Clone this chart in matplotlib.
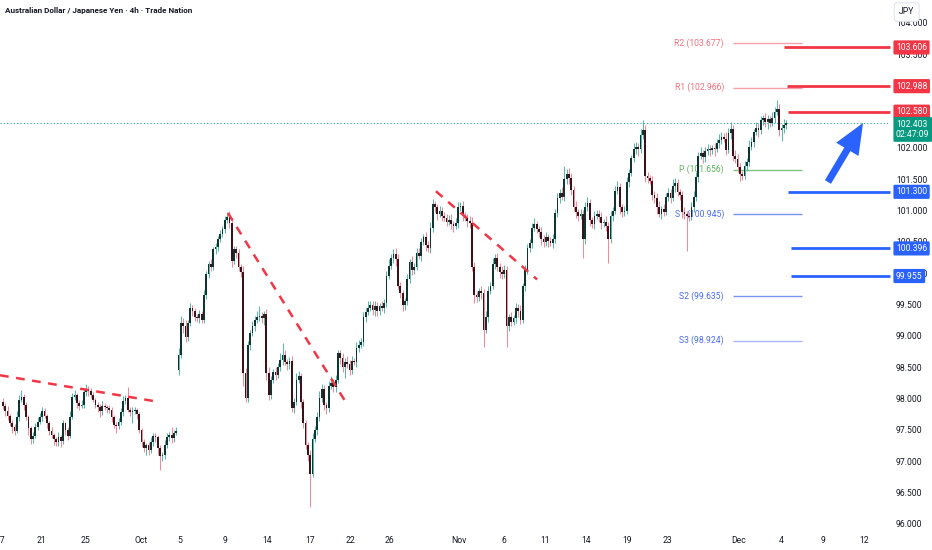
import numpy as np
import matplotlib
matplotlib.use("Agg")
import matplotlib.pyplot as plt
import matplotlib.transforms as mtrans

FONT = ["Liberation Sans Narrow", "Roboto", "DejaVu Sans"]
plt.rcParams["font.family"] = FONT

TITLE = "Australian Dollar / Japanese Yen \u00b7 4h \u00b7 Trade Nation"

# 4h closes, one row per trading day (Sep 17 .. Dec 4)
closes = [
    97.88, 97.80, 97.72, 97.60, 97.55, 97.48,
    97.70, 97.98, 98.02, 97.90, 97.70, 97.52,
    97.35, 97.40, 97.55, 97.62, 97.70, 97.80,
    97.72, 97.60, 97.48, 97.42, 97.35, 97.30,
    97.38, 97.32, 97.60, 97.50, 97.40, 97.70,
    98.02, 98.05, 97.92, 97.88, 97.90, 98.10,
    98.15, 98.12, 98.05, 97.98, 97.90, 97.86,
    97.80, 97.88, 97.86, 97.84, 97.82, 97.70,
    97.58, 97.56, 97.62, 97.78, 97.96, 98.00,
    97.82, 97.78, 97.80, 97.82, 97.75, 97.50,
    97.30, 97.20, 97.25, 97.18, 97.30, 97.40,
    97.38, 97.20, 97.08, 97.10, 97.25, 97.38,
    97.42, 97.36, 97.45, 97.48, 98.70, 99.20,
    99.15, 98.98, 99.20, 99.45, 99.40, 99.30,
    99.28, 99.35, 99.25, 99.65, 99.98, 100.15,
    100.10, 100.38, 100.42, 100.55, 100.62, 100.70,
    100.85, 100.90, 100.80, 100.20, 100.38, 100.32,
    100.10, 100.02, 98.40, 98.00, 98.85, 99.05,
    99.15, 99.25, 99.30, 99.32, 99.28, 99.35,
    98.40, 98.05, 98.30, 98.42, 98.38, 98.50,
    98.62, 98.70, 98.58, 98.55, 98.60, 97.85,
    97.95, 98.30, 98.35, 97.95, 97.60, 97.25,
    97.10, 96.80, 97.35, 97.50, 97.70, 98.00,
    98.15, 97.90, 97.85, 98.20, 98.25, 98.18,
    98.30, 98.72, 98.65, 98.50, 98.58, 98.55,
    98.45, 98.60, 98.58, 98.80, 98.85, 98.90,
    99.30, 99.38, 99.45, 99.50, 99.42, 99.48,
    99.40, 99.48, 99.45, 99.52, 99.95, 100.12,
    100.25, 100.30, 100.22, 99.80, 99.68, 99.50,
    99.55, 99.90, 100.18, 100.05, 100.10, 100.32,
    100.28, 100.50, 100.58, 100.45, 100.40, 100.72,
    101.10, 101.05, 100.95, 101.00, 100.92, 100.88,
    100.82, 100.85, 100.78, 100.76, 100.80, 101.05,
    101.08, 100.92, 100.88, 100.84, 100.80, 100.10,
    99.65, 99.62, 99.72, 99.68, 99.10, 99.30,
    99.72, 99.80, 100.15, 100.25, 100.10, 100.02,
    99.98, 100.05, 99.15, 99.30, 99.22, 99.28,
    99.45, 99.40, 99.25, 99.80, 100.05, 100.40,
    100.48, 100.72, 100.78, 100.70, 100.66, 100.55,
    100.50, 100.58, 100.52, 100.48, 100.55, 100.96,
    101.20, 101.28, 101.22, 101.50, 101.58, 101.52,
    101.33, 101.05, 100.98, 100.92, 100.95, 100.55,
    101.05, 101.12, 100.85, 100.78, 100.92, 100.95,
    100.90, 100.80, 100.82, 100.76, 100.55, 100.92,
    101.00, 101.32, 101.38, 101.05, 100.98, 101.00,
    101.45, 101.60, 101.84, 101.98, 102.02, 101.98,
    102.20, 102.28, 101.55, 101.52, 101.48, 101.25,
    101.20, 101.05, 100.95, 101.02, 100.98, 101.22,
    101.28, 101.20, 101.40, 101.44, 101.30, 101.25,
    100.98, 100.95, 100.92, 100.90, 101.05, 101.22,
    101.54, 101.88, 101.92, 101.86, 101.95, 101.98,
    101.96, 102.00, 101.98, 102.08, 102.12, 102.18,
    102.15, 101.97, 102.24, 102.30, 101.88, 101.82,
    101.70, 101.58, 101.55, 101.72, 101.78, 102.02,
    102.10, 102.25, 102.32, 102.28, 102.45, 102.48,
    102.42, 102.46, 102.40, 102.48, 102.58, 102.62,
    102.29, 102.32, 102.36, 102.403,
]

# wick lengths above / below the body, in hundredths of a yen
upper_wick = """
6 4 8 3 5 4  10 8 12 5 4 3  4 6 5 8 6 7  5 3 4 6 3 4  8 4 6 3 5 10
6 8 4 5 7 6  8 5 4 6 3 4  5 8 4 3 6 4  3 5 7 6 8 5  18 4 6 5 3 4
3 5 4 6 8 5  4 3 6 5 8 6  5 12 4 6 10 12  8 10 6 8 5 4  5 6 4 8 6 5
8 4 6 5 7 6  6 8 10 8 6 5  6 4 10 8 6 5  8 6 10 16 6 5  8 10 6 5 8 6
10 18 8 5 6 8  6 10 8 5 4 6  5 8 10 6 8 12  8 6 5 8 10 6  8 6 5 8 6 10
6 8 5 10 8 6  8 6 10 5 6 8  6 5 8 6 8 10  6 8 10 8 6 5  6 8 5 10 6 8
8 6 5 8 6 10  8 6 5 8 6 5  6 8 10 5 8 8  6 8 5 6 8 10  8 6 5 8 6 10
8 6 10 5 8 6  10 8 6 5 8 6  8 6 10 5 8 6  6 8 10 6 5 8  6 8 5 6 8 6
8 6 10 22 8 10  8 6 10 5 8 6  8 10 6 5 8 6  6 8 5 10 6 8  6 8 10 6 5 8
8 6 5 10 8 6  10 17 8 6 5 8  6 8 10 5 8 6  8 6 10 8 6 5  6 8 5 6 8 10
8 6 10 5 6 8  6 5 8 6 10 8  6 10 8 12 6 8  8 6 5 8 6 10  8 6 10 8 6 5
8 6 5 10 8 15  8 6 10 5
"""
lower_wick = """
5 8 6 4 10 6  4 6 3 8 5 10  8 6 4 5 3 6  4 8 6 5 10 6  6 10 5 8 6 4
3 5 8 6 4 5  6 8 5 4 6 8  10 6 5 8 6 8  6 12 5 4 6 5  4 6 18 5 8 6
8 6 10 8 5 6  8 10 22 8 6 5  6 8 5 4 8 6  10 8 6 5 8 6  6 8 5 4 6 5
6 5 8 6 5 4  6 5 8 10 6 8  6 8 20 6 5 8  6 8 5 6 8 10  10 8 6 5 8 6
6 8 5 10 8 6  8 6 5 10 8 6  10 53 6 5 8 6  6 8 10 6 5 8  8 6 10 8 18 6
8 6 5 8 6 5  6 8 5 6 8 10  8 6 5 8 6 5  6 8 10 6 8 10  8 6 5 8 6 5
6 8 5 10 6 8  6 8 10 6 8 5  6 5 8 10 6 8  6 8 5 10 8 6  12 8 6 10 28 6
8 6 5 8 6 10  8 6 33 8 6 5  8 10 6 5 8 6  6 8 5 6 8 10  8 6 10 5 8 6
6 8 5 6 8 10  8 6 10 8 6 30  8 6 10 5 8 6  8 10 6 8 39 6  8 6 5 10 8 6
6 8 5 6 8 10  6 5 10 8 6 8  8 10 6 8 6 5  6 8 5 10 6 8  10 8 56 6 5 8
6 8 5 10 8 6  8 6 10 5 8 6  6 8 5 10 8 6  8 10 6 5 8 6  6 8 5 10 6 8
8 12 6 5 8 6  10 18 8 6
"""
first_open = 97.95
gap_opens = {76: 98.45}  # Monday gap after the weekend

date_ticks = [-1.2, 16.5, 35.5, 59.7, 76.6, 96.1, 114.3, 132.9, 150.2, 167.1,
              197.4, 216.9, 234.6, 252.4, 270.1, 287.4, 318.6, 336.8, 355.0, 372.7]
date_labels = ["17", "21", "25", "Oct", "5", "9", "14", "17", "22", "26",
               "Nov", "6", "11", "14", "19", "23", "Dec", "4", "9", "12"]

price_ticks = [96.0, 96.5, 97.0, 97.5, 98.0, 98.5, 99.0, 99.5, 100.0,
               100.5, 101.0, 101.5, 102.0, 102.5, 103.0, 103.5, 104.0]

resistance = [103.606, 102.988, 102.580]
support = [101.300, 100.396, 99.955]
pivot_names = ["R2", "R1", "P", "S1", "S2", "S3"]
pivot_values = [103.677, 102.966, 101.656, 100.945, 99.635, 98.924]
last_price = 102.403
countdown = "02:47:09"

RED = "#f23645"
BLUE = "#2962ff"
GREEN = "#089981"
TXT = "#131722"

c = np.array(closes)
up_w = np.array(upper_wick.split(), dtype=float) / 100
dn_w = np.array(lower_wick.split(), dtype=float) / 100
o = np.empty_like(c)
o[0] = first_open
o[1:] = c[:-1]
for k, v in gap_opens.items():
    o[k] = v
hi = np.maximum(o, c) + up_w
lo = np.minimum(o, c) - dn_w
idx = np.arange(len(c))
rising = c >= o

fig = plt.figure(figsize=(9.32, 5.5), dpi=100)
ax = fig.add_axes([0, 20 / 550, 888 / 932, 530 / 550])
ax.set_xlim(-1.3, 383.1)
ax.set_ylim(95.898, 104.364)
for s in ax.spines.values():
    s.set_visible(False)

# candles
ax.vlines(idx[rising], lo[rising], hi[rising], color="#5cb8aa", lw=0.75, zorder=3)
ax.vlines(idx[~rising], lo[~rising], hi[~rising], color="#f08c99", lw=0.75, zorder=3)
body_col = np.where(rising, "#10342f", "#3a1217")
ax.bar(idx, np.maximum(np.abs(c - o), 0.015), bottom=np.minimum(o, c), width=0.75,
       color=body_col, linewidth=0, zorder=4)

# trend lines
trend_lines = [((-1.3, 98.37), (64.9, 97.96)),
               ((97.4, 100.96), (149.4, 97.88)),
               ((187.4, 101.31), (231.2, 99.90))]
for (x0, y0), (x1, y1) in trend_lines:
    ax.plot([x0, x1], [y0, y1], color=RED, lw=1.8, dashes=(3.5, 3), zorder=5,
            solid_capstyle="butt", dash_capstyle="butt")

# last price dotted line
ax.axhline(last_price, color="#26a69a", lw=0.8, ls=(0, (1, 2)), zorder=2)

# pivot points
piv_line = ["#f5a3ab", "#f5a3ab", "#7fc47f", "#7b93f2", "#7b93f2", "#a9b7f5"]
piv_text = ["#f0707e", "#f0707e", "#5fb35f", "#4a6cf0", "#4a6cf0", "#4a6cf0"]
for name, val, lc, tc in zip(pivot_names, pivot_values, piv_line, piv_text):
    ax.hlines(val, 316.0, 345.9, color=lc, lw=1.0, zorder=2)
    ax.text(312.1, val, f"{name} ({val:.3f})", color=tc, fontsize=6.2,
            ha="right", va="center", zorder=2)

# key levels
starts_r = [338.1, 339.4, 339.8]
starts_s = [339.8, 341.1, 341.1]
for val, x0 in zip(resistance, starts_r):
    ax.hlines(val, x0, 384.0, color=RED, lw=2.0, zorder=6, clip_on=False)
for val, x0 in zip(support, starts_s):
    ax.hlines(val, x0, 384.0, color=BLUE, lw=2.0, zorder=6, clip_on=False)

# arrow
ax.annotate("", xy=(372.3, 102.40), xytext=(357.1, 101.457),
            arrowprops=dict(arrowstyle="simple,head_length=1.3,head_width=1.1,tail_width=0.3",
                            color=BLUE, lw=0, mutation_scale=17, shrinkA=0, shrinkB=0),
            zorder=7)

# axes labels
ax.yaxis.tick_right()
ax.set_yticks(price_ticks)
ax.set_yticklabels([f"{p:.3f}" for p in price_ticks])
ax.tick_params(axis="y", length=0, pad=5.8, labelsize=6.2, labelcolor=TXT)
ax.set_xticks(date_ticks)
ax.set_xticklabels(date_labels)
ax.tick_params(axis="x", length=0, pad=4.5, labelsize=6.2, labelcolor=TXT)

tr = mtrans.blended_transform_factory(ax.transAxes, ax.transData)
lx = 1 + 8 / 888
for val in resistance:
    ax.text(lx, val, f"{val:.3f}", transform=tr, color="white", fontsize=6.2,
            ha="left", va="center", zorder=10, clip_on=False,
            bbox=dict(boxstyle="round,pad=0.3,rounding_size=0.15", fc=RED, ec="none"))
for val in support:
    ax.text(lx, val, f"{val:.3f}", transform=tr, color="white", fontsize=6.2,
            ha="left", va="center", zorder=10, clip_on=False,
            bbox=dict(boxstyle="round,pad=0.3,rounding_size=0.15", fc=BLUE, ec="none"))
ax.text(lx, 102.455, f"{last_price:.3f}\n{countdown}", transform=tr, color="white",
        fontsize=6.2, ha="left", va="top", linespacing=1.25, zorder=10, clip_on=False,
        bbox=dict(boxstyle="round,pad=0.3,rounding_size=0.15", fc=GREEN, ec="none"))

fig.text(899 / 932, 1 - 12 / 550, "JPY", color=TXT, fontsize=6.2, ha="left", va="center",
         zorder=11, bbox=dict(boxstyle="round,pad=0.55,rounding_size=0.3", fc="white",
                              ec="#e0e3eb", lw=0.8))
fig.text(5 / 932, 1 - 11 / 550, TITLE, color=TXT, fontsize=5.9, ha="left", va="center",
         fontweight="bold")

fig.savefig("out.png", dpi=100)
